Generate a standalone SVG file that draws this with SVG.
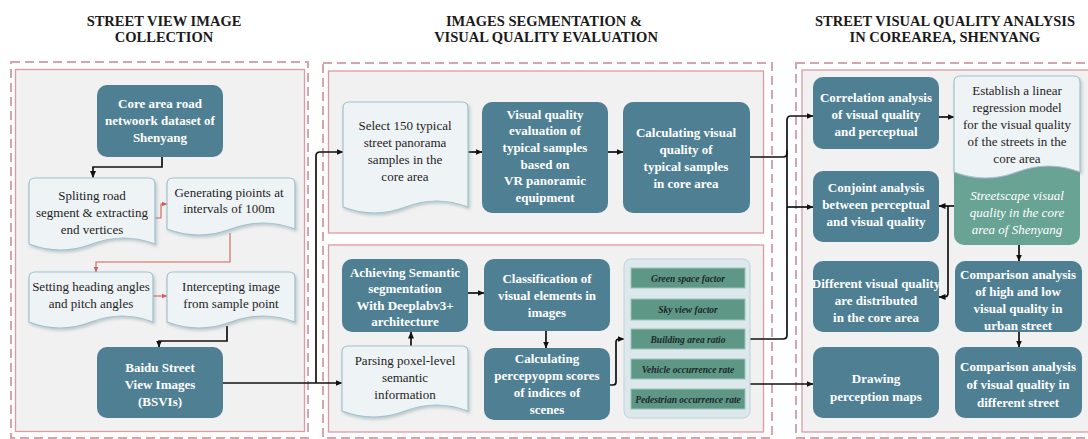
<svg xmlns="http://www.w3.org/2000/svg" width="1088" height="439" viewBox="0 0 1088 439">
<defs>
<marker id="ak" markerWidth="7" markerHeight="7" refX="6.5" refY="3.5" orient="auto" markerUnits="userSpaceOnUse"><path d="M0,0.5 L7,3.5 L0,6.5 z" fill="#111"/></marker>
<marker id="ar" markerWidth="6" markerHeight="6" refX="5.5" refY="3" orient="auto" markerUnits="userSpaceOnUse"><path d="M0,0.5 L6,3 L0,5.5 z" fill="#d0605e"/></marker>
<filter id="sh" x="-10%" y="-10%" width="130%" height="130%"><feDropShadow dx="1.5" dy="2" stdDeviation="1.5" flood-color="#7d98a3" flood-opacity="0.45"/></filter>
</defs>
<style>
.hd{font-family:"Liberation Serif",serif;font-weight:bold;font-size:14.5px;fill:#1a1a1a;text-anchor:middle}
.dash{fill:#ffffff;stroke:#d2a6ad;stroke-width:2;stroke-dasharray:9 5}
.inner{fill:#f1f1f1;stroke:#dc9aa3;stroke-width:1.3}
.dk{fill:#4f7f93}
.dt{font-family:"Liberation Serif",serif;font-weight:bold;font-size:13px;fill:#ffffff;text-anchor:middle}
.doc{fill:#eef3f5;stroke:#a3c1cc;stroke-width:1.2;filter:url(#sh)}
.lt{font-family:"Liberation Serif",serif;font-size:13px;fill:#1e1e1e;text-anchor:middle}
.gr{fill:#68a394}
.gt{font-family:"Liberation Serif",serif;font-style:italic;font-size:13px;fill:#ffffff;text-anchor:middle}
.fb{fill:#5f9786;stroke:#9cc3b8;stroke-width:1}
.ft{font-family:"Liberation Serif",serif;font-style:italic;font-weight:bold;font-size:9.5px;fill:#1b2828;text-anchor:middle}
.ck{fill:none;stroke:#111;stroke-width:1.7;marker-end:url(#ak)}
.cl{fill:none;stroke:#111;stroke-width:1.7}
.cr{fill:none;stroke:#d0605e;stroke-width:1.1;marker-end:url(#ar)}
</style>
<rect width="1088" height="439" fill="#ffffff"/>
<!-- headers -->
<text class="hd" x="164" y="26">STREET VIEW IMAGE</text>
<text class="hd" x="164" y="42">COLLECTION</text>
<text class="hd" x="544" y="26">IMAGES SEGMENTATION &amp;</text>
<text class="hd" x="546" y="42">VISUAL QUALITY EVALUATION</text>
<text class="hd" x="945" y="26">STREET VISUAL QUALITY ANALYSIS</text>
<text class="hd" x="945" y="42">IN COREAREA, SHENYANG</text>
<!-- panels -->
<g id="panel1">
<rect class="dash" x="11" y="62" width="297" height="376"/>
<rect class="inner" x="15.5" y="69.5" width="289" height="362"/>
</g>
<g id="panel2">
<rect class="dash" x="323" y="63" width="449" height="375"/>
<rect class="inner" x="328.5" y="71" width="435" height="162"/>
<rect class="inner" x="328.5" y="245" width="435" height="187"/>
</g>
<g id="panel3">
<rect class="dash" x="796" y="63" width="300" height="375"/>
<rect class="inner" x="802" y="70" width="290" height="362"/>
</g>
<!-- connectors -->
<g id="connectors">
<path class="ck" d="M162 157 V167 H93 V177.5"/>
<path class="cr" d="M155 218 H161 V204 H167"/>
<path class="cr" d="M230 233 V262 H96 V272"/>
<path class="cr" d="M153 296 H167"/>
<path class="ck" d="M227 326 V341 H159 V347"/>
<path class="ck" d="M223 383 H342"/>
<path class="ck" d="M316 383 V156 Q316 152 320 152 H343"/>
<path class="ck" d="M468 152 H482"/>
<path class="ck" d="M608 152 H623"/>
<path class="ck" d="M750 157 H783 Q787 157 787 153 V120 Q787 116 791 116 H813"/>
<path class="cl" d="M787 150 V335 Q787 339 783 339 H750"/>
<path class="ck" d="M787 207 H813"/>
<path class="ck" d="M468 293 H484"/>
<path class="ck" d="M411 346 V332"/>
<path class="ck" d="M546 331 V348"/>
<path class="ck" d="M610 385 H613 Q616 385 616 382 V342 Q616 339 619 339 H624"/>
<path class="ck" d="M750 384 H813"/>
<path class="ck" d="M939 117 H954"/>
<path class="ck" d="M954 206 H939"/>
<path class="ck" d="M948 206 V293 Q948 297 944 297 H939"/>
<path class="ck" d="M1019 245 V261"/>
<path class="ck" d="M1019 332 V347"/>
</g>
<!-- panel 1 nodes -->
<g id="core">
<rect class="dk" x="97" y="85" width="126" height="72" rx="10"/>
<text class="dt" x="160"><tspan x="160" y="107.5">Core area road</tspan><tspan x="160" y="124.5">netwoork dataset of</tspan><tspan x="160" y="141.5">Shenyang</tspan></text>
</g>
<g id="spliting">
<path class="doc" d="M35 178 H149 Q155 178 155 184 V244 Q123.5 232 92 244 T29 244 V184 Q29 178 35 178 Z"/>
<text class="lt"><tspan x="92" y="199.5">Spliting road</tspan><tspan x="92" y="216.5">segment &amp; extracting</tspan><tspan x="92" y="233.5">end vertices</tspan></text>
</g>
<g id="generating">
<path class="doc" d="M173 178 H289 Q295 178 295 184 V229 Q263 217 231 229 T167 229 V184 Q167 178 173 178 Z"/>
<text class="lt"><tspan x="229" y="196.5">Generating pioints at</tspan><tspan x="229" y="212.5">intervals of 100m</tspan></text>
</g>
<g id="setting">
<path class="doc" d="M35 272 H147 Q153 272 153 278 V322 Q122 310 91 322 T29 322 V278 Q29 272 35 272 Z"/>
<text class="lt"><tspan x="91" y="290.5">Setting heading angles</tspan><tspan x="91" y="307.5">and pitch angles</tspan></text>
</g>
<g id="intercepting">
<path class="doc" d="M173 272 H289 Q295 272 295 278 V322 Q263 310 231 322 T167 322 V278 Q167 272 173 272 Z"/>
<text class="lt"><tspan x="231" y="290.5">Intercepting image</tspan><tspan x="231" y="307.5">from sample point</tspan></text>
</g>
<g id="baidu">
<rect class="dk" x="97" y="347" width="126" height="71" rx="10"/>
<text class="dt"><tspan x="160" y="371.5">Baidu Street</tspan><tspan x="160" y="388.5">View Images</tspan><tspan x="160" y="405.5">(BSVIs)</tspan></text>
</g>
<!-- panel 2 nodes -->
<g id="select">
<path class="doc" d="M349 102 H462 Q468 102 468 108 V207 Q436.5 195 405.5 207 T343 207 V108 Q343 102 349 102 Z"/>
<text class="lt"><tspan x="405" y="129.5">Select 150 typical</tspan><tspan x="405" y="146.5">street panorama</tspan><tspan x="405" y="163.5">samples in the</tspan><tspan x="405" y="180.5">core area</tspan></text>
</g>
<g id="vr-eval">
<rect class="dk" x="482" y="102" width="126" height="111" rx="10"/>
<text class="dt"><tspan x="545" y="118.5">Visual quality</tspan><tspan x="545" y="135.2">evaluation of</tspan><tspan x="545" y="151.9">typical samples</tspan><tspan x="545" y="168.6">based on</tspan><tspan x="545" y="185.3">VR panoramic</tspan><tspan x="545" y="202">equipment</tspan></text>
</g>
<g id="calc-visual">
<rect class="dk" x="623" y="102" width="127" height="111" rx="10"/>
<text class="dt"><tspan x="686" y="136.5">Calculating visual</tspan><tspan x="686" y="153.5">quality  of</tspan><tspan x="686" y="170.5">typical samples</tspan><tspan x="686" y="187.5">in core area</tspan></text>
</g>
<g id="achieving">
<rect class="dk" x="342" y="259" width="126" height="73" rx="10"/>
<text class="dt"><tspan x="405" y="276.5">Achieving Semantic</tspan><tspan x="405" y="293">segmentation</tspan><tspan x="405" y="309.5">With Deeplabv3+</tspan><tspan x="405" y="326">architecture</tspan></text>
</g>
<g id="parsing">
<path class="doc" d="M348 346 H462 Q468 346 468 352 V411 Q436.5 399 405 411 T342 411 V352 Q342 346 348 346 Z"/>
<text class="lt"><tspan x="405" y="364.5">Parsing poxel-level</tspan><tspan x="405" y="381.5">semantic</tspan><tspan x="405" y="398.5">information</tspan></text>
</g>
<g id="classification">
<rect class="dk" x="484" y="259" width="126" height="72" rx="10"/>
<text class="dt"><tspan x="547" y="282.5">Classification of</tspan><tspan x="547" y="299.5">visual elements in</tspan><tspan x="547" y="316.5">images</tspan></text>
</g>
<g id="calc-scores">
<rect class="dk" x="484" y="348" width="126" height="72" rx="10"/>
<text class="dt"><tspan x="547" y="362.5">Calculating</tspan><tspan x="547" y="379.5">percepyopm scores</tspan><tspan x="547" y="396.5">of indices of</tspan><tspan x="547" y="413.5">scenes</tspan></text>
</g>
<g id="factors">
<rect x="624" y="259" width="126" height="159" rx="7" fill="#dde8ed" stroke="#bcd1da" stroke-width="1"/>
<rect class="fb" x="631" y="268" width="114" height="20"/>
<text class="ft" x="688" y="281.5">Green space factor</text>
<rect class="fb" x="631" y="299" width="114" height="21"/>
<text class="ft" x="688" y="313">Sky view factor</text>
<rect class="fb" x="631" y="329" width="114" height="20"/>
<text class="ft" x="688" y="342.5">Building area ratio</text>
<rect class="fb" x="631" y="359" width="114" height="20"/>
<text class="ft" x="688" y="372.5">Vehicle occurrence rate</text>
<rect class="fb" x="631" y="389" width="114" height="20"/>
<text class="ft" x="688" y="402.5">Pedestrian occurrence rate</text>
</g>
<!-- panel 3 nodes -->
<g id="correlation">
<rect class="dk" x="813" y="77" width="126" height="72" rx="10"/>
<text class="dt"><tspan x="876" y="101.5">Correlation analysis</tspan><tspan x="876" y="118.5">of visual quality</tspan><tspan x="876" y="135.5">and perceptual</tspan></text>
</g>
<g id="streetscape">
<rect class="gr" x="954" y="150" width="126" height="95" rx="10"/>
<text class="gt"><tspan x="1017" y="199.5">Streetscape visual</tspan><tspan x="1017" y="216.5">quality in the core</tspan><tspan x="1017" y="233.5">area of Shenyang</tspan></text>
</g>
<g id="establish">
<path class="doc" d="M960 76 H1074 Q1080 76 1080 82 V172 Q1048.5 160 1017 172 T954 172 V82 Q954 76 960 76 Z"/>
<text class="lt"><tspan x="1017" y="94.5">Establish a linear</tspan><tspan x="1017" y="111.5">regression model</tspan><tspan x="1017" y="128.5">for the visual quality</tspan><tspan x="1017" y="145.5">of the streets in the</tspan><tspan x="1017" y="162.5">core area</tspan></text>
</g>
<g id="conjoint">
<rect class="dk" x="813" y="171" width="126" height="71" rx="10"/>
<text class="dt"><tspan x="876" y="191.5">Conjoint analysis</tspan><tspan x="876" y="208.5">between perceptual</tspan><tspan x="876" y="225.5">and visual quality</tspan></text>
</g>
<g id="different">
<rect class="dk" x="813" y="261" width="126" height="71" rx="10"/>
<text class="dt"><tspan x="876" y="287.5">Different visual quality</tspan><tspan x="876" y="304.5">are distributed</tspan><tspan x="876" y="321.5">in the core area</tspan></text>
</g>
<g id="comparison-hl">
<rect class="dk" x="955" y="261" width="127" height="71" rx="10"/>
<text class="dt"><tspan x="1018" y="278.5">Comparison analysis</tspan><tspan x="1018" y="295.5">of high and low</tspan><tspan x="1018" y="312.5">visual quality in</tspan><tspan x="1018" y="329.5">urban street</tspan></text>
</g>
<g id="drawing">
<rect class="dk" x="813" y="347" width="126" height="71" rx="10"/>
<text class="dt"><tspan x="876" y="382.5">Drawing</tspan><tspan x="876" y="400.5">perception  maps</tspan></text>
</g>
<g id="comparison-diff">
<rect class="dk" x="955" y="347" width="127" height="71" rx="10"/>
<text class="dt"><tspan x="1018" y="370.5">Comparison  analysis</tspan><tspan x="1018" y="388.5">of visual quality in</tspan><tspan x="1018" y="406.5">different street</tspan></text>
</g>
</svg>
